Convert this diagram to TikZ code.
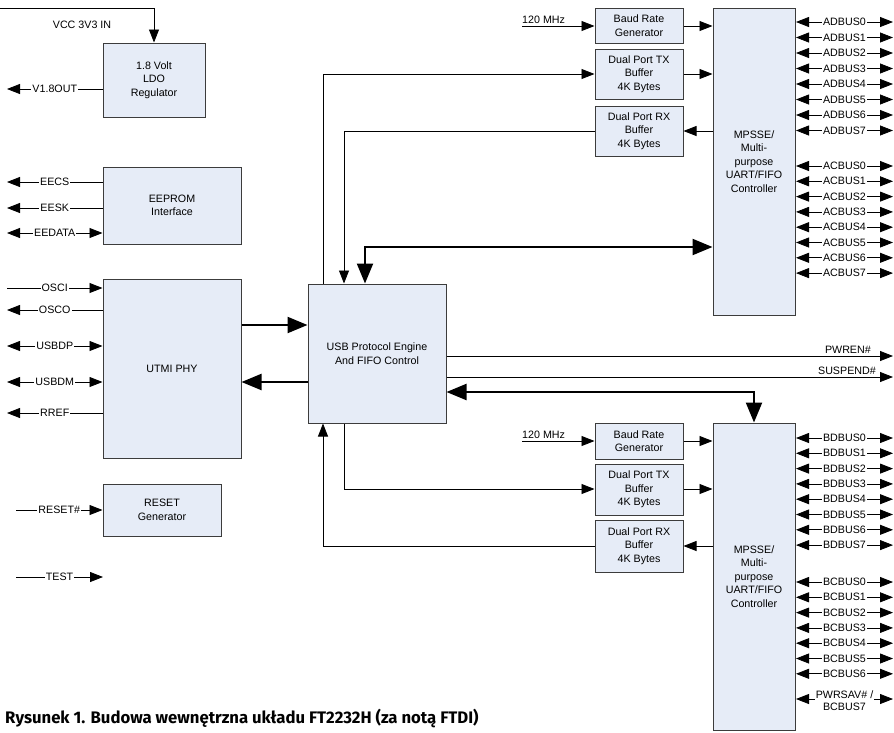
\documentclass[tikz,border=0pt]{standalone}
\usepackage{fontspec}
\setmainfont{Liberation Sans}
\newfontfamily\capfont{Fira Sans}
\usetikzlibrary{arrows.meta}
\definecolor{boxfill}{RGB}{230,236,247}
\definecolor{boxline}{RGB}{60,60,60}
\tikzset{
  blk/.style={draw=boxline, line width=1pt, fill=boxfill, inner sep=0pt, align=center,
    font=\fontsize{10.7}{13.5}\selectfont},
  wire/.style={line width=0.8pt},
  tip/.tip={Triangle[length=13pt,width=10pt]},
  bigtip/.tip={Triangle[length=20pt,width=16pt]},
  thk/.style={line width=2.2pt},
  lbl/.style={fill=white, inner xsep=1pt, inner ysep=0pt, font=\fontsize{10.7}{12}\selectfont},
  txt/.style={inner sep=0pt, align=center, font=\fontsize{10.7}{13.5}\selectfont},
}
\begin{document}
\begin{tikzpicture}[x=1pt,y=-1pt]
\useasboundingbox (0,0) rectangle (894,732);
% ---------- blocks ----------
\node[blk, minimum width=102, minimum height=74] (ldo) at (154,80) {1.8 Volt\\LDO\\Regulator};
\node[blk, minimum width=138, minimum height=77] (eeprom) at (172,205.5) {EEPROM\\Interface};
\node[blk, minimum width=138, minimum height=179] (utmi) at (172,368.5) {UTMI PHY};
\node[blk, minimum width=118, minimum height=52] (reset) at (162,510) {RESET\\Generator};
\node[blk, minimum width=138, minimum height=139] (usb) at (377,353.5) {USB Protocol Engine\\And FIFO Control};
\node[blk, minimum width=88, minimum height=35] (baudA) at (639,25.5) {Baud Rate\\Generator};
\node[blk, minimum width=88, minimum height=50] (txA) at (639,74) {Dual Port TX\\Buffer\\4K Bytes};
\node[blk, minimum width=88, minimum height=50] (rxA) at (639,131) {Dual Port RX\\Buffer\\4K Bytes};
\node[blk, minimum width=82, minimum height=307] (mpA) at (754,161.5) {MPSSE/\\Multi-\\purpose\\UART/FIFO\\Controller};
\node[blk, minimum width=88, minimum height=36] (baudB) at (639,441) {Baud Rate\\Generator};
\node[blk, minimum width=88, minimum height=51] (txB) at (639,489.5) {Dual Port TX\\Buffer\\4K Bytes};
\node[blk, minimum width=88, minimum height=52] (rxB) at (639,546) {Dual Port RX\\Buffer\\4K Bytes};
\node[blk, minimum width=82, minimum height=307] (mpB) at (754,576.5) {MPSSE/\\Multi-\\purpose\\UART/FIFO\\Controller};
% ---------- VCC ----------
\coordinate (vcc) at (0,8);
\draw[wire,-tip] (vcc) -- (ldo.north |- vcc) -- (ldo.north);
\node[txt] (vcclbl) at (82,25) {VCC 3V3 IN};
% ---------- left pins ----------
\coordinate (v18) at (7,89);
\draw[wire,tip-] (v18) -- node[lbl]{V1.8OUT} (ldo.west |- v18);
\coordinate (eecs) at (7,182);
\draw[wire,tip-] (eecs) -- node[lbl]{EECS} (eeprom.west |- eecs);
\coordinate (eesk) at (7,208);
\draw[wire,tip-] (eesk) -- node[lbl]{EESK} (eeprom.west |- eesk);
\coordinate (eedata) at (7,233);
\draw[wire,tip-tip] (eedata) -- node[lbl]{EEDATA} (eeprom.west |- eedata);
\coordinate (osci) at (7,288);
\draw[wire,-tip] (osci) -- node[lbl]{OSCI} (utmi.west |- osci);
\coordinate (osco) at (7,310);
\draw[wire,tip-] (osco) -- node[lbl]{OSCO} (utmi.west |- osco);
\coordinate (usbdp) at (7,346);
\draw[wire,tip-tip] (usbdp) -- node[lbl]{USBDP} (utmi.west |- usbdp);
\coordinate (usbdm) at (7,382);
\draw[wire,tip-tip] (usbdm) -- node[lbl]{USBDM} (utmi.west |- usbdm);
\coordinate (rref) at (7,413);
\draw[wire,tip-] (rref) -- node[lbl]{RREF} (utmi.west |- rref);
\coordinate (rst) at (16,510);
\draw[wire,-tip] (rst) -- node[lbl]{RESET\#} (reset.west |- rst);
\coordinate (test) at (16,577);
\coordinate (testend) at (103,577);
\draw[wire,-tip] (test) -- node[lbl]{TEST} (testend);
% ---------- UTMI <-> USB ----------
\draw[thk,-bigtip] (utmi.east |- 0,325) -- (usb.west |- 0,325);
\draw[thk,-bigtip] (usb.west |- 0,382) -- (utmi.east |- 0,382);
% ---------- top channel ----------
\draw[wire,-tip] (usb.north -| 323,0) -- (323,74) -- (txA.west |- 0,74);
\draw[wire,-tip] (rxA.west |- 0,131) -- (344,131) -- (usb.north -| 344,0);
\draw[thk,bigtip-bigtip] (usb.north -| 365,0) -- (365,247) -- (mpA.west |- 0,247);
\coordinate (clkA) at (522,26);
\draw[wire,-tip] (clkA) -- (baudA.west |- clkA);
\node[txt, anchor=south west] (clkAlbl) at (522,24) {120 MHz};
\draw[wire,-tip] (baudA.east |- clkA) -- (mpA.west |- clkA);
\draw[wire,-tip] (txA.east |- 0,74) -- (mpA.west |- 0,74);
\draw[wire,-tip] (mpA.west |- 0,131) -- (rxA.east |- 0,131);
% ---------- bottom channel ----------
\draw[thk,bigtip-bigtip] (usb.east |- 0,392) -- (mpB.north |- 0,392) -- (mpB.north);
\coordinate (pwren) at (893,356);
\draw[wire,-tip] (usb.east |- pwren) -- (pwren);
\node[txt, anchor=south east] (pwrenlbl) at (871,354) {PWREN\#};
\coordinate (susp) at (893,377);
\draw[wire,-tip] (usb.east |- susp) -- (susp);
\node[txt, anchor=south east] (susplbl) at (876,375) {SUSPEND\#};
\draw[wire,-tip] (usb.south -| 344,0) -- (344,489) -- (txB.west |- 0,489);
\draw[wire,-tip] (rxB.west |- 0,546) -- (323,546) -- (usb.south -| 323,0);
\coordinate (clkB) at (522,441);
\draw[wire,-tip] (clkB) -- (baudB.west |- clkB);
\node[txt, anchor=south west] (clkBlbl) at (522,439) {120 MHz};
\draw[wire,-tip] (baudB.east |- clkB) -- (mpB.west |- clkB);
\draw[wire,-tip] (txB.east |- 0,489) -- (mpB.west |- 0,489);
\draw[wire,-tip] (mpB.west |- 0,546) -- (rxB.east |- 0,546);
% ---------- right pins ----------
\foreach \i in {0,...,7}{
  \coordinate (adL\i) at (796,22+15.5*\i);
  \coordinate (adR\i) at (893,22+15.5*\i);
  \draw[wire,tip-tip] (adL\i) -- node[lbl]{ADBUS\i} (adR\i);
  \coordinate (acL\i) at (796,166+15.3*\i);
  \coordinate (acR\i) at (893,166+15.3*\i);
  \draw[wire,tip-tip] (acL\i) -- node[lbl]{ACBUS\i} (acR\i);
  \coordinate (bdL\i) at (796,438+15.3*\i);
  \coordinate (bdR\i) at (893,438+15.3*\i);
  \draw[wire,tip-tip] (bdL\i) -- node[lbl]{BDBUS\i} (bdR\i);
}
\foreach \i in {0,...,6}{
  \coordinate (bcL\i) at (796,582+15.3*\i);
  \coordinate (bcR\i) at (893,582+15.3*\i);
  \draw[wire,tip-tip] (bcL\i) -- node[lbl]{BCBUS\i} (bcR\i);
}
\coordinate (psL) at (796,699);
\coordinate (psR) at (893,699);
\draw[wire,tip-tip] (psL) -- node[lbl, align=center, yshift=-1.5pt, font=\fontsize{10.7}{12}\selectfont]{PWRSAV\# /\\BCBUS7} (psR);
% ---------- caption ----------
\node[inner sep=0pt, anchor=base west, font=\capfont\bfseries\fontsize{16.7}{18}\selectfont] (cap) at (5,723)
  {Rysunek 1. Budowa wewnętrzna układu FT2232H (za notą FTDI)};
\end{tikzpicture}
\end{document}
